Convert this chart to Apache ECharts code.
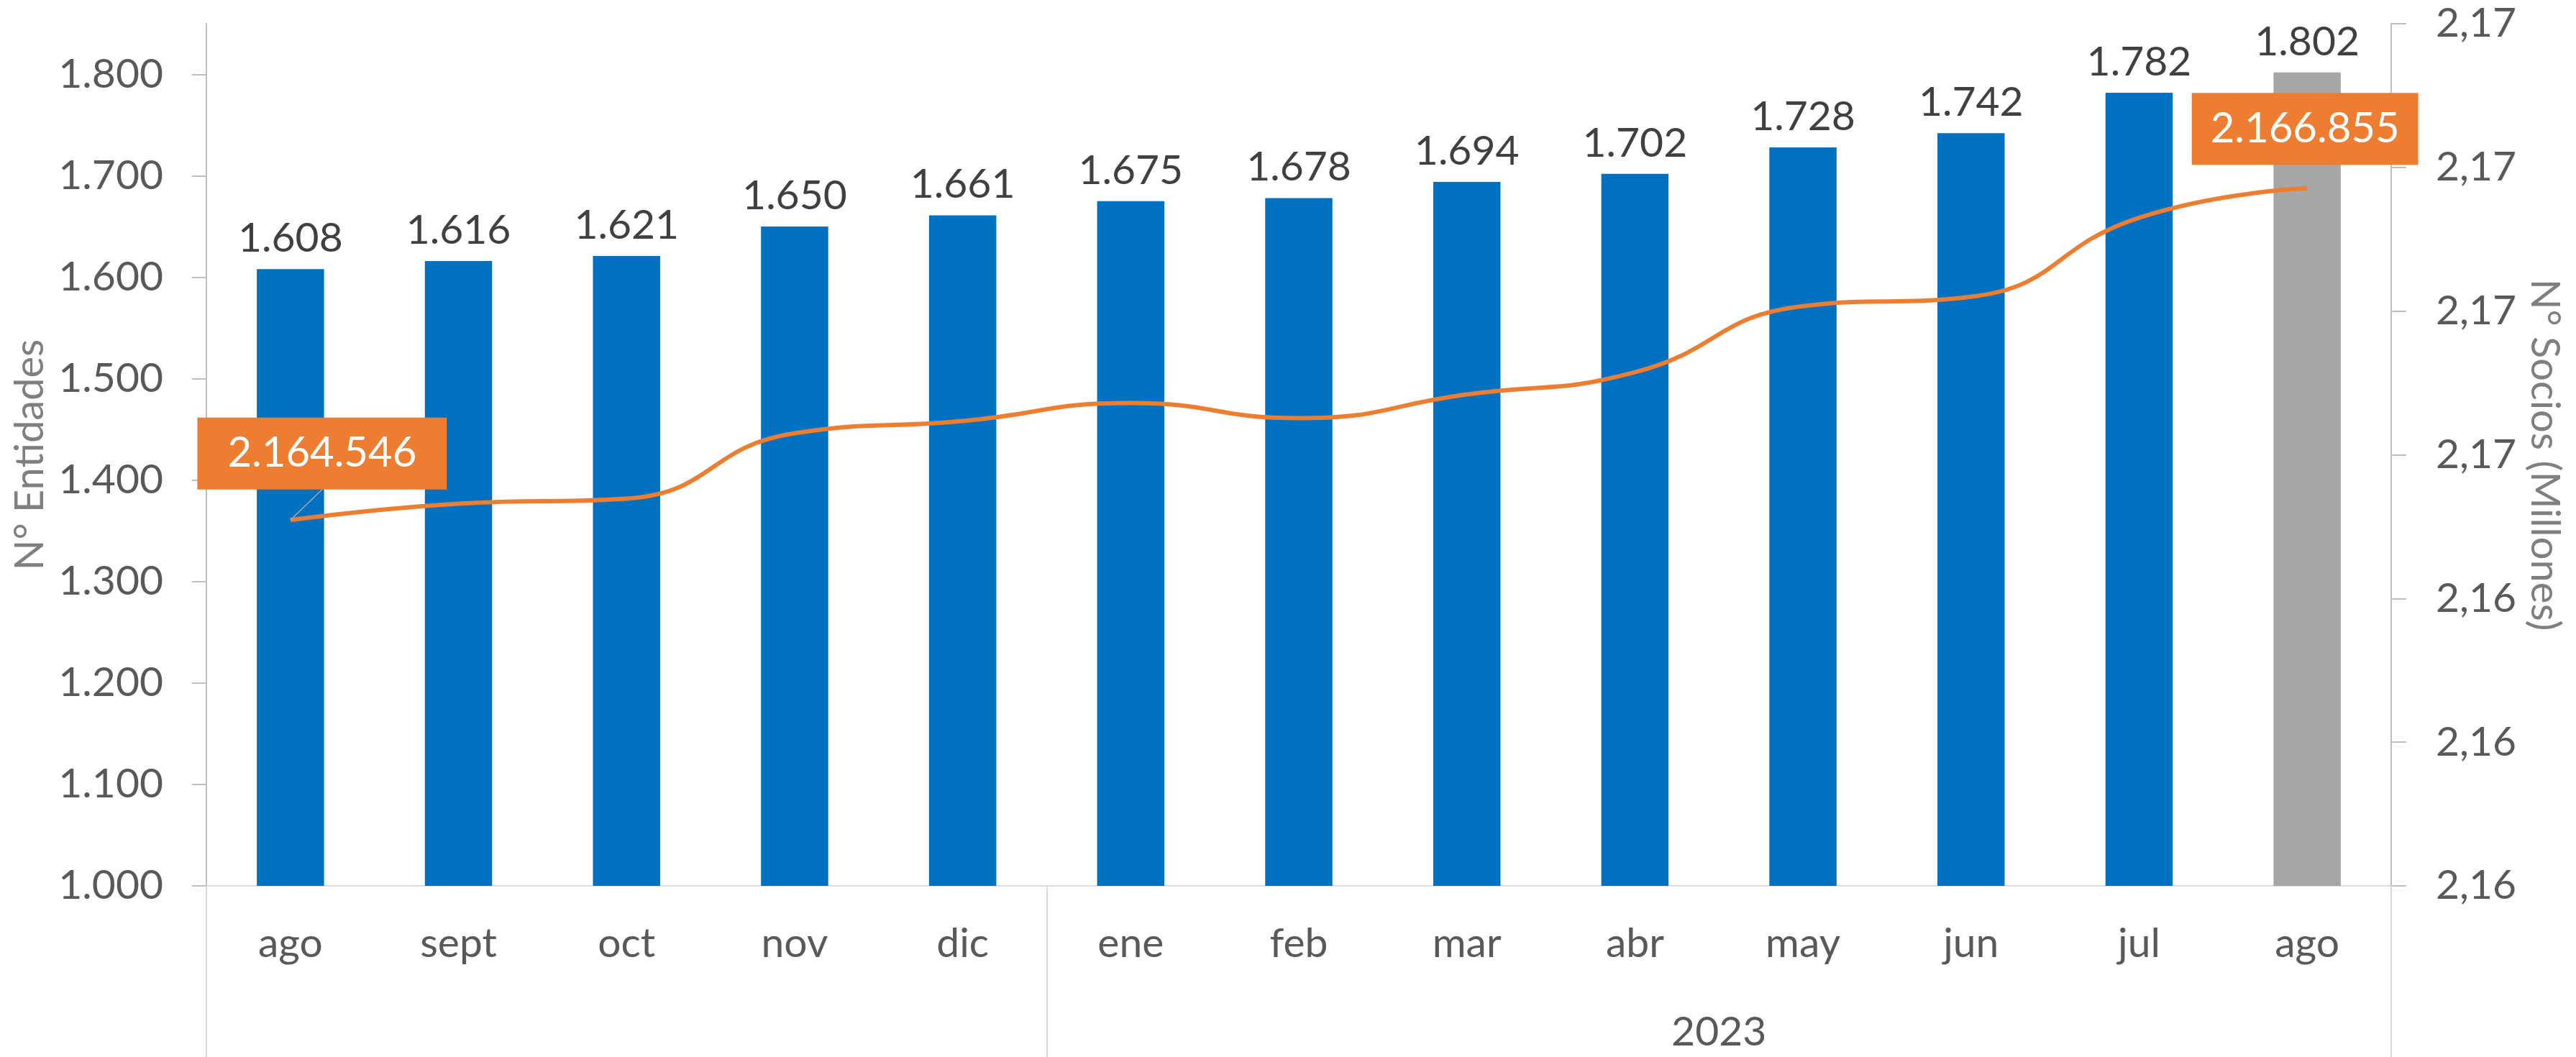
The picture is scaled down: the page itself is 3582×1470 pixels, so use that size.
<!DOCTYPE html>
<html>
<head>
<meta charset="utf-8">
<script src="https://cdn.jsdelivr.net/npm/echarts@6/dist/echarts.min.js"></script>
<style>
  html, body { margin: 0; padding: 0; background: #ffffff; }
  #chart { width: 3582px; height: 1470px; }
</style>
</head>
<body>
<div id="chart"></div>
<script>
// ---- data ----
const months = ['ago', 'sept', 'oct', 'nov', 'dic', 'ene', 'feb', 'mar', 'abr', 'may', 'jun', 'jul', 'ago'];
const yearGroupNames = ['', '2023'];
const yearGroupSizes = [5, 8];
const entidades = [1608, 1616, 1621, 1650, 1661, 1675, 1678, 1694, 1702, 1728, 1742, 1782, 1802];
const socios = [2164546, 2164660, 2164695, 2165150, 2165235, 2165360, 2165255, 2165420, 2165575, 2166035, 2166100, 2166650, 2166855];
const leftTicks = [1000, 1100, 1200, 1300, 1400, 1500, 1600, 1700, 1800];
const rightTicks = [2162000, 2163000, 2164000, 2165000, 2166000, 2167000, 2168000];
const labeledSocios = [0, socios.length - 1];

// ---- helpers ----
const FONT = 'Lato';
const fmt = v => String(v).replace(/\B(?=(\d{3})+(?!\d))/g, '.');
const fmtMillions = v => { const r = Math.round(v / 10000); return String(Math.floor(r / 100)) + ',' + String(r % 100).padStart(2, '0'); };

// group boundaries & centres on the secondary (value) x axis
const boundaries = [0];
yearGroupSizes.forEach(s => boundaries.push(boundaries[boundaries.length - 1] + s));
const groupCenters = [];
for (let i = 0; i < yearGroupSizes.length; i++) groupCenters.push((boundaries[i] + boundaries[i + 1]) / 2);

const lineData = socios.map((v, i) => {
  const item = { value: v };
  if (labeledSocios.includes(i)) {
    item.label = { show: true, padding: i === 0 ? [21, 42, 21, 42] : [21, 26, 21, 26] };
    item.labelLine = { show: i === 0 };
  }
  return item;
});

const chart = echarts.init(document.getElementById('chart'));
chart.setOption({
  animation: false,
  backgroundColor: '#ffffff',
  textStyle: { fontFamily: FONT },
  grid: { left: 287, right: 257, top: 33, bottom: 238, outerBoundsMode: 'none', containLabel: false },
  xAxis: [
    {
      type: 'category',
      data: months,
      position: 'bottom',
      axisLine: { show: true, lineStyle: { color: '#d9d9d9', width: 2 } },
      axisTick: { show: false },
      axisLabel: { color: '#595959', fontSize: 57, fontFamily: FONT, margin: 52, interval: 0 },
      splitLine: { show: false }
    },
    {
      type: 'value',
      min: 0,
      max: boundaries[boundaries.length - 1],
      position: 'bottom',
      axisLine: { show: false },
      axisTick: { show: true, customValues: boundaries, length: 238, lineStyle: { color: '#d9d9d9', width: 2 } },
      axisLabel: {
        show: true, customValues: groupCenters, color: '#595959', fontSize: 57, fontFamily: FONT, margin: 175,
        formatter: v => { const k = groupCenters.indexOf(v); return k >= 0 ? yearGroupNames[k] : ''; }
      },
      splitLine: { show: false }
    }
  ],
  yAxis: [
    {
      type: 'value',
      min: 1000,
      max: 1850,
      position: 'left',
      name: 'N° Entidades',
      nameLocation: 'middle',
      nameGap: 205,
      nameTextStyle: { color: '#7f7f7f', fontSize: 56, fontFamily: FONT },
      axisLine: { show: true, lineStyle: { color: '#bfbfbf', width: 2 } },
      axisTick: { show: true, customValues: leftTicks, length: 20, lineStyle: { color: '#bfbfbf', width: 2 } },
      axisLabel: { customValues: leftTicks, color: '#595959', fontSize: 57, fontFamily: FONT, margin: 60, formatter: v => fmt(v) },
      splitLine: { show: false }
    },
    {
      type: 'value',
      min: rightTicks[0],
      max: rightTicks[rightTicks.length - 1],
      interval: 1000,
      position: 'right',
      name: 'N° Socios (Millones)',
      nameLocation: 'middle',
      nameRotate: -90,
      nameGap: 176,
      nameTextStyle: { color: '#7f7f7f', fontSize: 56, fontFamily: FONT },
      axisLine: { show: true, lineStyle: { color: '#bfbfbf', width: 2 } },
      axisTick: { show: true, length: 21, lineStyle: { color: '#bfbfbf', width: 2 } },
      axisLabel: { color: '#595959', fontSize: 57, fontFamily: FONT, margin: 62, formatter: v => fmtMillions(v) },
      splitLine: { show: false }
    }
  ],
  series: [
    {
      type: 'bar',
      xAxisIndex: 0,
      yAxisIndex: 0,
      data: entidades,
      barWidth: '40%',
      itemStyle: { color: p => (p.dataIndex === entidades.length - 1 ? '#a6a6a6' : '#0070c0') },
      label: { show: true, position: 'top', distance: 14, color: '#404040', fontSize: 57, fontFamily: FONT, formatter: p => fmt(p.value) }
    },
    {
      type: 'line',
      xAxisIndex: 0,
      yAxisIndex: 1,
      data: lineData,
      smooth: 0.5,
      symbol: 'circle',
      symbolSize: 1,
      showSymbol: true,
      lineStyle: { color: '#ed7d31', width: 6 },
      itemStyle: { color: '#ed7d31' },
      z: 5,
      label: {
        show: false, position: 'top', distance: 0,
        backgroundColor: '#ed7d31', color: '#ffffff', fontSize: 58, fontFamily: FONT,
        formatter: p => fmt(p.value)
      },
      labelLine: { show: false, lineStyle: { color: '#a6a6a6', width: 1.5 } },
      labelLayout: p => {
        if (p.dataIndex === 0) return { dx: 44, dy: -42 };
        return { dx: -3, dy: -32 };
      }
    }
  ]
});
</script>
</body>
</html>
